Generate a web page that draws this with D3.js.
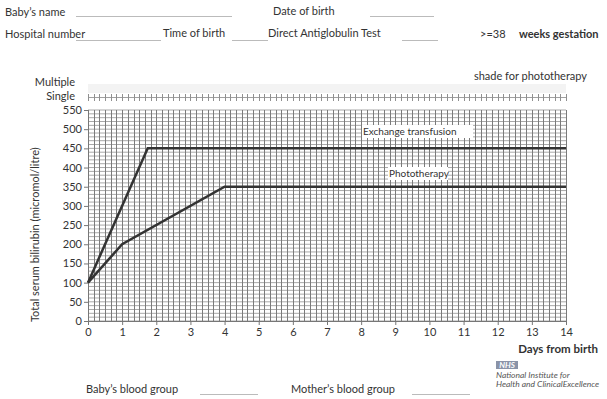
<!DOCTYPE html>
<html>
<head>
<meta charset="utf-8">
<script src="https://cdn.jsdelivr.net/npm/d3@7"></script>
<style>
  body { margin: 0; background: #fff; }
  svg { font-family: Lato, "Open Sans", sans-serif; fill: #333; }
  text { fill: #333; }
</style>
</head>
<body>
<div id="chart"></div>
<script>
// chart values
const dayTicks = [0, 1, 2, 3, 4, 5, 6, 7, 8, 9, 10, 11, 12, 13, 14]
const bilirubinTicks = [0, 50, 100, 150, 200, 250, 300, 350, 400, 450, 500, 550]

const exchangeDays = [0, 1.75, 14]
const exchangeValues = [100, 450, 450]

const photoDays = [0, 1, 4, 14]
const photoValues = [100, 200, 350, 350]

// chart dimensions
const width = 607
const height = 399
const margin = { top: 110, right: 41, bottom: 78, left: 88 }

const svg = d3.select("#chart")
  .append("svg")
  .attr("width", width)
  .attr("height", height)

// scales
const x = d3.scaleLinear()
  .domain([0, 14])
  .range([margin.left, width - margin.right])

const y = d3.scaleLinear()
  .domain([0, 550])
  .range([height - margin.bottom, margin.top])

// grid
const vGrid = d3.range(0, 14 * 6 + 1).map(i => i / 6)
const hGrid = d3.range(0, 56).map(i => i * 10)

const grid = svg.append("g")
grid.selectAll(".h")
  .data(hGrid)
  .join("line")
    .attr("x1", x(0)).attr("x2", x(14))
    .attr("y1", d => y(d)).attr("y2", d => y(d))
    .attr("stroke", "#a8a8a8")
    .attr("stroke-width", 1)
grid.selectAll(".v")
  .data(vGrid)
  .join("line")
    .attr("x1", d => Math.round(x(d)) + 0.5).attr("x2", d => Math.round(x(d)) + 0.5)
    .attr("y1", y(550)).attr("y2", y(0))
    .attr("stroke", "#7a7a7a")
    .attr("stroke-width", 1)

// multiple / single strip
const strip = svg.append("g")
strip.append("rect")
  .attr("x", x(0)).attr("y", 84)
  .attr("width", x(14) - x(0)).attr("height", 9)
  .attr("fill", "#f3f3f3")
strip.append("line")
  .attr("x1", x(0)).attr("x2", x(14))
  .attr("y1", 97.5).attr("y2", 97.5)
  .attr("stroke", "#a0a0a0")
strip.selectAll(".tick")
  .data(vGrid)
  .join("line")
    .attr("x1", d => Math.round(x(d)) + 0.5).attr("x2", d => Math.round(x(d)) + 0.5)
    .attr("y1", 94).attr("y2", 101)
    .attr("stroke", "#909090")

strip.append("text").attr("x", 75).attr("y", 86).attr("text-anchor", "end")
  .attr("font-size", 11).text("Multiple")
strip.append("text").attr("x", 75).attr("y", 100).attr("text-anchor", "end")
  .attr("font-size", 11).text("Single")

// axes
svg.append("g")
  .attr("transform", `translate(0,${y(0)})`)
  .call(d3.axisBottom(x).tickValues(dayTicks).tickSize(4).tickPadding(3))
svg.append("g")
  .attr("transform", `translate(${x(0)},0)`)
  .call(d3.axisLeft(y).tickValues(bilirubinTicks).tickSize(4).tickPadding(2))

svg.selectAll(".domain").attr("stroke", "#777")
svg.selectAll(".tick line").attr("stroke", "#777")
svg.selectAll(".tick text")
  .attr("font-family", "Lato, 'Open Sans', sans-serif")
  .attr("font-size", 11)
  .attr("fill", "#333")

// threshold lines
const line = d3.line().x(d => x(d[0])).y(d => y(d[1]))

svg.append("path")
  .datum(exchangeDays.map((d, i) => [d, exchangeValues[i]]))
  .attr("d", line)
  .attr("fill", "none")
  .attr("stroke", "#333")
  .attr("stroke-width", 2.5)

svg.append("path")
  .datum(photoDays.map((d, i) => [d, photoValues[i]]))
  .attr("d", line)
  .attr("fill", "none")
  .attr("stroke", "#333")
  .attr("stroke-width", 2.5)

// line labels
function boxLabel (txt, bx, by, bw) {
  svg.append("rect")
    .attr("x", bx).attr("y", by)
    .attr("width", bw).attr("height", 13)
    .attr("fill", "#fff")
  svg.append("text")
    .attr("x", bx + 1).attr("y", by + 10)
    .attr("font-size", 10)
    .text(txt)
}
boxLabel("Exchange transfusion", 362, 125, 111)
boxLabel("Phototherapy", 388, 167, 60)

// axis titles
svg.append("text")
  .attr("transform", `translate(39,${y(225)}) rotate(-90)`)
  .attr("text-anchor", "middle")
  .attr("font-size", 11)
  .text("Total serum bilirubin (micromol/litre)")

svg.append("text")
  .attr("x", 598).attr("y", 353)
  .attr("text-anchor", "end")
  .attr("font-size", 11.5)
  .attr("font-weight", "bold")
  .text("Days from birth")

svg.append("text")
  .attr("x", 587).attr("y", 80)
  .attr("text-anchor", "end")
  .attr("font-size", 11)
  .text("shade for phototherapy")

// header form fields
const header = svg.append("g").attr("font-size", 11)
function field (txt, tx, ty, lx1, lx2, ly, bold) {
  header.append("text").attr("x", tx).attr("y", ty)
    .attr("font-weight", bold ? "bold" : null).text(txt)
  if (lx1 != null) {
    header.append("line")
      .attr("x1", lx1).attr("x2", lx2).attr("y1", ly).attr("y2", ly)
      .attr("stroke", "#bbb").attr("stroke-width", 1)
  }
}
field("Baby\u2019s name", 5, 16, 76, 232, 16.5)
field("Date of birth", 273, 15, 370, 434, 16.5)
field("Hospital number", 5, 38, 76, 161, 40.5)
field("Time of birth", 163, 37, 232, 268, 40.5)
field("Direct Antiglobulin Test", 268, 37, 402, 438, 40.5)
field(">=38", 480, 38)
field("weeks gestation", 519, 38, null, null, null, true)

field("Baby\u2019s blood group", 86, 393, 200, 258, 394.5)
field("Mother\u2019s blood group", 291, 393, 412, 470, 394.5)

// NICE logo
const logo = svg.append("g")
logo.append("rect")
  .attr("x", 496).attr("y", 361)
  .attr("width", 22).attr("height", 8)
  .attr("fill", "#8a93a8")
logo.append("text")
  .attr("x", 507).attr("y", 368)
  .attr("text-anchor", "middle")
  .attr("font-size", 8).attr("font-weight", "bold").attr("font-style", "italic")
  .style("fill", "#fff")
  .text("NHS")
logo.append("text")
  .attr("x", 496).attr("y", 378)
  .attr("font-size", 8.5).attr("font-style", "italic")
  .style("fill", "#555")
  .text("National Institute for")
logo.append("text")
  .attr("x", 496).attr("y", 387)
  .attr("font-size", 8.5).attr("font-style", "italic")
  .style("fill", "#555")
  .text("Health and ClinicalExcellence")
</script>
</body>
</html>
